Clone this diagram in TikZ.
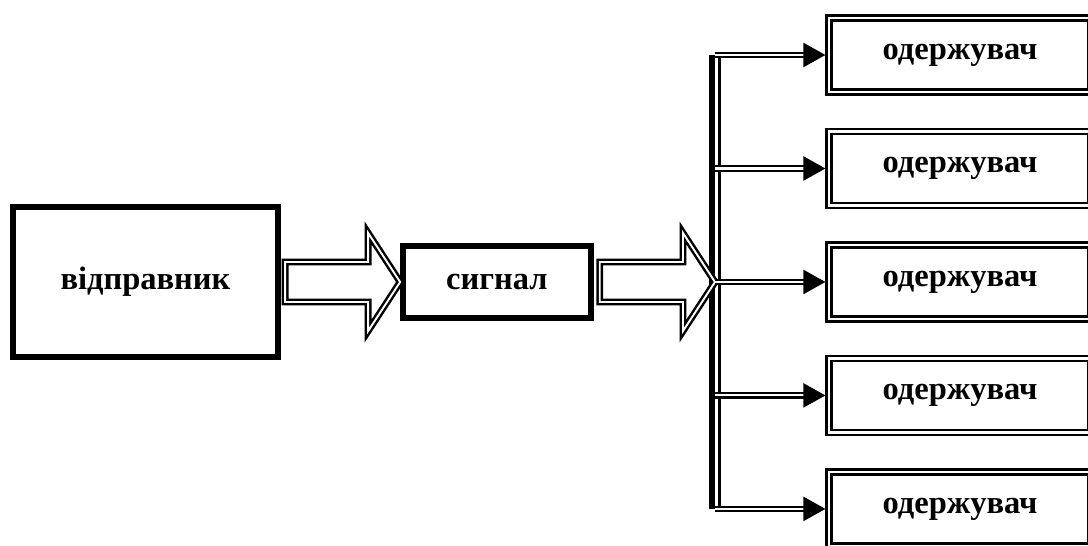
\documentclass[tikz,border=0pt]{standalone}
\usepackage{fontspec}
\setmainfont{Liberation Serif}
\usepackage{tikz}
\usetikzlibrary{arrows.meta,calc}

\begin{document}
\begin{tikzpicture}[x=0.02cm, y=-0.02cm, node distance=2.27cm,
	font=\fontsize{18.5}{20}\selectfont\bfseries,
	sender/.style={draw, line width=3.6pt, minimum width=5.3cm, minimum height=3cm},
	signal/.style={draw, line width=3.2pt, minimum width=3.76cm, minimum height=1.44cm},
	receiver/.style={draw, double, line width=1.4pt, double distance=1.3pt, outer sep=2.05pt,
		minimum width=5.24cm, minimum height=1.48cm},
	branch/.style={double, line width=1.25pt, double distance=1.2pt,
		-{Triangle[length=0.44cm, width=0.48cm]}},
	fat/.style={double, line width=1.4pt, double distance=1.1pt, line join=miter,
		to path={let \p1=(\tikztostart), \p2=(\tikztotarget) in
			(\x1,\y1+0.4cm) -- (\x2-0.64cm,\y1+0.4cm) -- (\x2-0.64cm,\y1+0.98cm) -- (\x2,\y1)
			-- (\x2-0.64cm,\y1-0.98cm) -- (\x2-0.64cm,\y1-0.4cm) -- (\x1,\y1-0.4cm) -- cycle}}]
	\path [use as bounding box, clip] (0,0) rectangle (1088,545);

	% Nodes {sender, signal, r1 .. r5}
	\node [sender] 		(sender) at (145.5,282) 				{відправник};
	\node [signal] 		(signal) [right of=sender, node distance=7.03cm] {сигнал};
	\node [receiver]	(r1) at (960,55) 		{одержувач};
	\node [receiver]	(r2) [below of=r1] 		{одержувач};
	\node [receiver]	(r3) [below of=r2] 		{одержувач};
	\node [receiver]	(r4) [below of=r3] 		{одержувач};
	\node [receiver]	(r5) [below of=r4] 		{одержувач};
	\coordinate (bus) at (712,282);

	% Bus
	\draw [line width=3.4pt] (bus |- r1) -- (bus |- r5);
	\draw [line width=1.2pt] ([xshift=0.15cm]bus |- r1) -- ([xshift=0.15cm]bus |- r5);

	% Paths
	\draw [fat] 	([xshift=0.08cm]sender.east) to (signal.west);
	\draw [fat] 	([xshift=0.12cm]signal.east) to ([xshift=0.06cm]bus);
	\draw [branch] 	([xshift=0.06cm]bus |- r1) -- (r1);
	\draw [branch] 	([xshift=0.06cm]bus |- r2) -- (r2);
	\draw [branch] 	([xshift=0.06cm]bus |- r3) -- (r3);
	\draw [branch] 	([xshift=0.06cm]bus |- r4) -- (r4);
	\draw [branch] 	([xshift=0.06cm]bus |- r5) -- (r5);

\end{tikzpicture}
\end{document}
